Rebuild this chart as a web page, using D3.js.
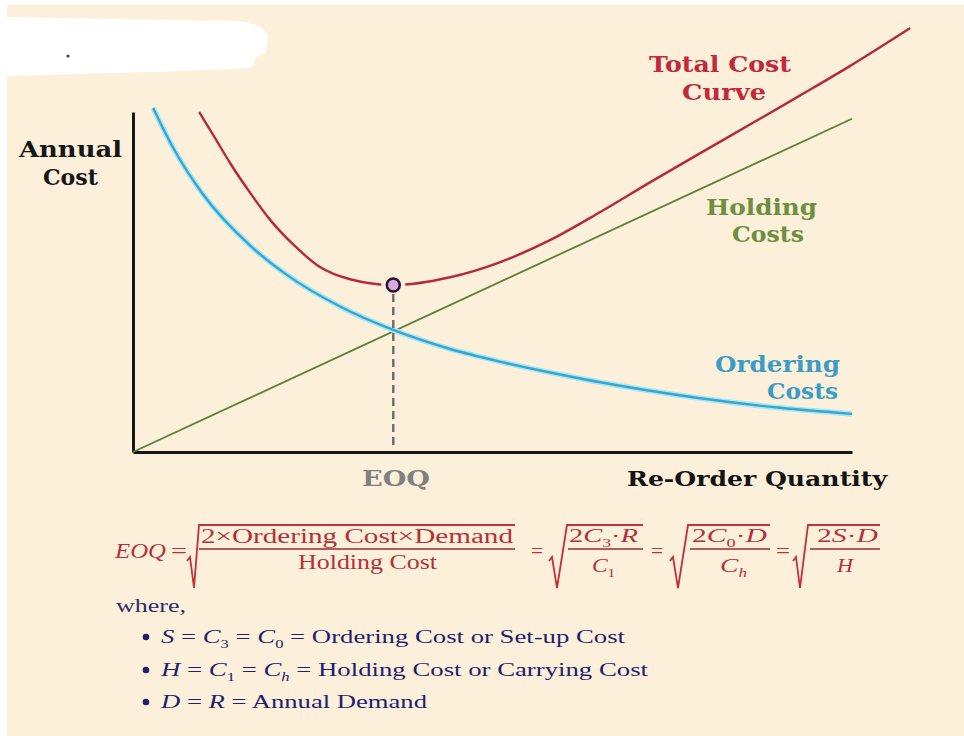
<!DOCTYPE html>
<html>
<head>
<meta charset="utf-8">
<script src="https://cdn.jsdelivr.net/npm/d3@7"></script>
<style>
  html, body { margin: 0; padding: 0; background: #fff; }
  svg { display: block; }
</style>
</head>
<body>
<svg width="964" height="736"></svg>
<script>
const svg = d3.select("svg");
const width = 964;
const height = 736;

// readings: re-order quantity (0..100) vs annual cost (0..100 on the axis)
const orderQty  = [2.8, 5.6, 9.7, 16.3, 21.4, 28.8, 36.2, 44.1, 51.0, 59.4, 65.0, 71.9, 78.9, 90.0, 100];
const orderCost = [101.2, 89.4, 75.9, 60.7, 52.1, 42.8, 35.9, 30.3, 26.6, 22.8, 20.5, 18.0, 15.8, 13.0, 11.2];

const holdQty  = [0, 100];
const holdCost = [0, 98];

const totalQty  = [9.2, 11.4, 13.5, 16.3, 19.1, 22.5, 26.0, 30.2, 36.2, 44.1, 51.0, 58.0, 65.0, 71.9, 78.9, 85.8, 92.8, 99.7, 108.1];
const totalCost = [100, 92.4, 85.0, 76.2, 68.2, 60.6, 54.4, 50.8, 49.1, 51.4, 55.8, 62.3, 70.6, 79.3, 87.9, 96.3, 104.9, 113.5, 124.7];

const eoqQty = 36.2;
const eoqCost = 49.1;

const bg = "#fcf0da";

// 1. background (white frame on left/top + white blot top-left)
svg.append("rect").attr("width", width).attr("height", height).attr("fill", "#fff");
svg.append("rect").attr("x", 7).attr("y", 5).attr("width", width - 7).attr("height", height - 5).attr("fill", bg);
svg.append("path")
  .attr("d", "M7,17 L235,21 Q268,24 268,38 L266,52 L256,58 L252,68 L185,71 L7,76 Z")
  .attr("fill", "#fff");
svg.append("circle").attr("cx", 68).attr("cy", 56).attr("r", 1.6).attr("fill", "#444");

// 2. scales + axes
const x = d3.scaleLinear().domain([0, 100]).range([133, 852]);
const y = d3.scaleLinear().domain([0, 100]).range([452, 112]);

const xAxis = svg.append("g")
  .attr("transform", `translate(0,${y(0)})`)
  .call(d3.axisBottom(x).tickValues([]).tickSizeOuter(0));
const yAxis = svg.append("g")
  .attr("transform", `translate(${x(0)},0)`)
  .call(d3.axisLeft(y).tickValues([]).tickSizeOuter(0));
[xAxis, yAxis].forEach(g => g.select(".domain").attr("stroke", "#151515").attr("stroke-width", 3));

// 3. curves
const line = d3.line()
  .x(d => x(d[0]))
  .y(d => y(d[1]))
  .curve(d3.curveMonotoneX);

const holding = d3.zip(holdQty, holdCost);
const ordering = d3.zip(orderQty, orderCost);
const total = d3.zip(totalQty, totalCost);

svg.append("path").attr("d", line(holding))
  .attr("fill", "none").attr("stroke", "#5e7d3c").attr("stroke-width", 1.8);

svg.append("path").attr("d", line(ordering))
  .attr("fill", "none").attr("stroke", "#a8e6f6").attr("stroke-width", 5.5);
svg.append("path").attr("d", line(ordering))
  .attr("fill", "none").attr("stroke", "#3aa6cc").attr("stroke-width", 2.4);

svg.append("path").attr("d", line(total))
  .attr("fill", "none").attr("stroke", "#b52a3a").attr("stroke-width", 2.4);

// EOQ marker with gap in the total curve, dashed drop line
svg.append("circle").attr("cx", x(eoqQty)).attr("cy", y(eoqCost)).attr("r", 12).attr("fill", bg);
svg.append("line")
  .attr("x1", x(eoqQty)).attr("x2", x(eoqQty))
  .attr("y1", y(eoqCost) + 9).attr("y2", y(0) - 2)
  .attr("stroke", "#707070").attr("stroke-width", 2.5).attr("stroke-dasharray", "8,5");
svg.append("circle").attr("cx", x(eoqQty)).attr("cy", y(eoqCost)).attr("r", 6.5)
  .attr("fill", "#d9a8de").attr("stroke", "#2a1230").attr("stroke-width", 2.5);

// 4. text helpers
function label(txt, lx, ly, o) {
  const t = svg.append("text").attr("x", lx).attr("y", ly)
    .attr("font-family", o.font || "DejaVu Serif")
    .attr("font-size", o.size)
    .attr("font-weight", o.weight || "normal")
    .attr("fill", o.color);
  if (o.len) t.attr("textLength", o.len).attr("lengthAdjust", "spacingAndGlyphs");
  t.text(txt);
  return t;
}

// parts: {t, i (italic), sub}
function rich(parts, lx, ly, o) {
  const t = svg.append("text").attr("x", lx).attr("y", ly)
    .attr("font-family", "Liberation Serif")
    .attr("font-size", o.size)
    .attr("fill", o.color);
  if (o.len) t.attr("textLength", o.len).attr("lengthAdjust", "spacingAndGlyphs");
  let shift = 0;
  parts.forEach(p => {
    const s = t.append("tspan").text(p.t);
    if (p.i) s.attr("font-style", "italic");
    const want = p.sub ? 5 : 0;
    if (want !== shift) { s.attr("dy", want - shift); shift = want; }
    if (p.sub) s.attr("font-size", o.size * 0.62);
  });
  return t;
}

// 5. chart labels
label("Annual", 19, 157, { size: 23, weight: "bold", color: "#161616", len: 103 });
label("Cost", 43, 185, { size: 23, weight: "bold", color: "#161616", len: 55 });

label("Total Cost", 649, 72, { size: 23, weight: "bold", color: "#c02a3c", len: 142 });
label("Curve", 682, 100, { size: 23, weight: "bold", color: "#c02a3c", len: 84 });

label("Holding", 706, 215, { size: 23, weight: "bold", color: "#6e8f40", len: 111 });
label("Costs", 732, 242, { size: 23, weight: "bold", color: "#6e8f40", len: 72 });

label("Ordering", 715, 372, { size: 23, weight: "bold", color: "#3c9cc8", len: 125 });
label("Costs", 767, 399, { size: 23, weight: "bold", color: "#3c9cc8", len: 71 });

label("EOQ", 362, 486, { size: 22, weight: "bold", color: "#808080", len: 68 });
label("Re-Order Quantity", 627, 486, { size: 21, weight: "bold", color: "#141414", len: 260 });

// 6. EOQ formula
const red = "#b3313a";
rich([{ t: "EOQ", i: true }], 115, 558, { size: 21, color: red, len: 51 });
[[171, 16], [531, 12], [651, 12], [776, 14]].forEach(([ex, el]) =>
  rich([{ t: "=" }], ex, 558, { size: 21, color: red, len: el }));

function radical(hx, bx, tx, ex) {
  svg.append("path")
    .attr("d", `M${hx},561 L${hx + 3},557 L${bx},588 L${tx},525 L${ex},525`)
    .attr("fill", "none").attr("stroke", "#c2303a").attr("stroke-width", 1.8);
}
radical(187, 194, 199, 515);
radical(549, 557, 567, 643);
radical(670, 678, 688, 770);
radical(793, 800, 808, 880);

[[199, 515], [568, 643], [690, 770], [810, 880]].forEach(([a, b]) =>
  svg.append("line").attr("x1", a).attr("x2", b).attr("y1", 549).attr("y2", 549)
    .attr("stroke", "#9a2a30").attr("stroke-width", 1.3));

rich([{ t: "2×Ordering Cost×Demand" }], 201, 543, { size: 20, color: red, len: 312 });
rich([{ t: "Holding Cost" }], 298, 569, { size: 20, color: red, len: 139 });

rich([{ t: "2" }, { t: "C", i: true }, { t: "3", sub: true }, { t: "·" }, { t: "R", i: true }], 569, 542, { size: 19, color: red, len: 69 });
rich([{ t: "C", i: true }, { t: "1", sub: true }], 592, 572, { size: 19, color: red, len: 23 });

rich([{ t: "2" }, { t: "C", i: true }, { t: "0", sub: true }, { t: "·" }, { t: "D", i: true }], 692, 542, { size: 19, color: red, len: 75 });
rich([{ t: "C", i: true }, { t: "h", i: true, sub: true }], 720, 572, { size: 19, color: red, len: 27 });

rich([{ t: "2" }, { t: "S", i: true }, { t: "·" }, { t: "D", i: true }], 817, 542, { size: 19, color: red, len: 61 });
rich([{ t: "H", i: true }], 837, 572, { size: 19, color: red, len: 16 });

// 7. where-list
const navy = "#1f1f6e";
rich([{ t: "where," }], 116, 612, { size: 18, color: "#2c2c6a", len: 70 });

const bulletY = [643, 676, 708];
const bulletParts = [
  [{ t: "S", i: true }, { t: " = " }, { t: "C", i: true }, { t: "3", sub: true }, { t: " = " }, { t: "C", i: true }, { t: "0", sub: true }, { t: " = Ordering Cost or Set-up Cost" }],
  [{ t: "H", i: true }, { t: " = " }, { t: "C", i: true }, { t: "1", sub: true }, { t: " = " }, { t: "C", i: true }, { t: "h", i: true, sub: true }, { t: " = Holding Cost or Carrying Cost" }],
  [{ t: "D", i: true }, { t: " = " }, { t: "R", i: true }, { t: " = Annual Demand" }]
];
const bulletLen = [464, 487, 266];

bulletParts.forEach((parts, k) => {
  svg.append("circle").attr("cx", 146).attr("cy", bulletY[k] - 6).attr("r", 3.3).attr("fill", navy);
  rich(parts, 161, bulletY[k], { size: 19, color: navy, len: bulletLen[k] });
});
</script>
</body>
</html>
